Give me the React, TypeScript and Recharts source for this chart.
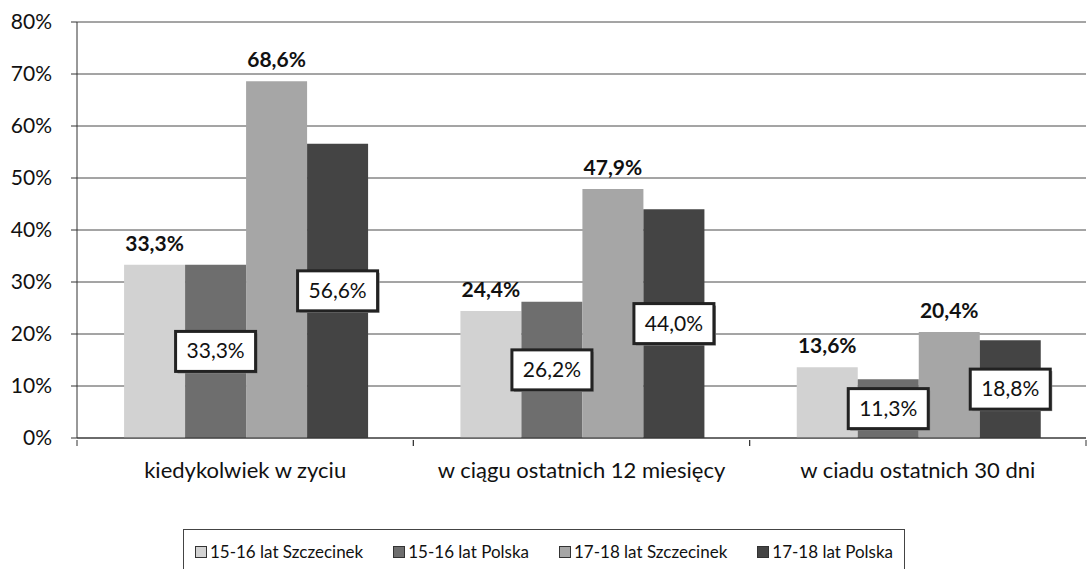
import { BarChart, Bar, XAxis, YAxis, CartesianGrid, LabelList, Legend } from 'recharts'

const categories = ['kiedykolwiek w zyciu', 'w ciągu ostatnich 12 miesięcy', 'w ciadu ostatnich 30 dni']
const szczecinek1516 = [33.3, 24.4, 13.6]
const polska1516 = [33.3, 26.2, 11.3]
const szczecinek1718 = [68.6, 47.9, 20.4]
const polska1718 = [56.6, 44.0, 18.8]
const seriesNames = ['15-16 lat Szczecinek', '15-16 lat Polska', '17-18 lat Szczecinek', '17-18 lat Polska']
const yTicks = [0, 10, 20, 30, 40, 50, 60, 70, 80]

const COLORS = ['#d2d2d2', '#6e6e6e', '#a6a6a6', '#444444']
const FONT = 'Lato, "Open Sans", sans-serif'

const data = categories.map((name, i) => ({
  name,
  s1: szczecinek1516[i],
  s2: polska1516[i],
  s3: szczecinek1718[i],
  s4: polska1718[i],
}))

const fmt = (v: number) => v.toFixed(1).replace('.', ',') + '%'

const HALF_BAND = (1088 - 77 - 2) / 3 / 2

function CategoryTick({ x, y, payload }: any) {
  return (
    <g>
      <line x1={x - HALF_BAND} x2={x - HALF_BAND} y1={y} y2={y + 6} stroke="#333" />
      <line x1={x + HALF_BAND} x2={x + HALF_BAND} y1={y} y2={y + 6} stroke="#333" />
      <text x={x} y={y + 38} textAnchor="middle" fontSize={22} fontFamily={FONT} fill="#111">
        {payload.value}
      </text>
    </g>
  )
}

function BoxLabel({ x, y, width, height, value }: any) {
  const cx = x + width / 2
  const cy = y + height / 2
  const w = 80
  const h = 40
  return (
    <g>
      <rect x={cx - w / 2 + 2} y={cy - h / 2 + 2} width={w} height={h} fill="#888" />
      <rect x={cx - w / 2} y={cy - h / 2} width={w} height={h} fill="#fff" stroke="#222" strokeWidth={3} />
      <text x={cx} y={cy + 7} textAnchor="middle" fontSize={21} fontFamily={FONT} fill="#111">
        {fmt(value)}
      </text>
    </g>
  )
}

function LegendBox({ payload }: any) {
  // keep the series order, not the sorted one
  const items = [...(payload || [])].sort(
    (a: any, b: any) => seriesNames.indexOf(a.value) - seriesNames.indexOf(b.value),
  )
  return (
    <div style={{ display: 'flex', justifyContent: 'center', gap: 30, fontFamily: FONT, fontSize: 17, color: '#111', whiteSpace: 'nowrap' }}>
      {items.map((p: any) => (
        <span key={p.value} style={{ display: 'flex', alignItems: 'center', gap: 3, flexShrink: 0 }}>
          <span style={{ width: 10, height: 10, background: p.color, border: '1px solid #333', display: 'inline-block' }} />
          {p.value}
        </span>
      ))}
    </div>
  )
}

export default function App() {
  const keys = ['s1', 's2', 's3', 's4']
  return (
    <div style={{ position: 'absolute', left: 0, top: 0, width: 1088, height: 569, background: '#fff', overflow: 'hidden' }}>
      <BarChart
        width={1088}
        height={569}
        data={data}
        margin={{ top: 22, right: 2, left: 0, bottom: 81 }}
        barCategoryGap="14%"
        barGap={0}
      >
        <CartesianGrid vertical={false} stroke="#4a4a4a" />
        <XAxis
          dataKey="name"
          tick={<CategoryTick />}
          tickLine={false}
          tickSize={0}
          height={50}
          axisLine={{ stroke: '#333' }}
          interval={0}
        />
        <YAxis
          width={77}
          domain={[0, 80]}
          ticks={yTicks}
          tickFormatter={(v: number) => v + '%'}
          tick={{ fontSize: 21, fill: '#111', fontFamily: FONT }}
          tickSize={6}
          tickMargin={19}
          tickLine={{ stroke: '#333' }}
          axisLine={{ stroke: '#333' }}
          interval={0}
        />
        <Legend
          layout="horizontal"
          verticalAlign="middle"
          align="center"
          content={<LegendBox />}
          wrapperStyle={{ left: 183, top: 529, width: 722, height: 50, border: '1px solid #444', paddingTop: 11, boxSizing: 'border-box' }}
        />
        {keys.map((k, i) => (
          <Bar key={k} dataKey={k} name={seriesNames[i]} fill={COLORS[i]} isAnimationActive={false}>
            {i % 2 === 0 ? (
              <LabelList
                dataKey={k}
                position="top"
                offset={14}
                formatter={(v: any) => fmt(Number(v))}
                style={{ fontSize: 21, fontWeight: 700, fontFamily: FONT, fill: '#111' }}
              />
            ) : (
              <LabelList dataKey={k} content={<BoxLabel />} />
            )}
          </Bar>
        ))}
      </BarChart>
    </div>
  )
}
